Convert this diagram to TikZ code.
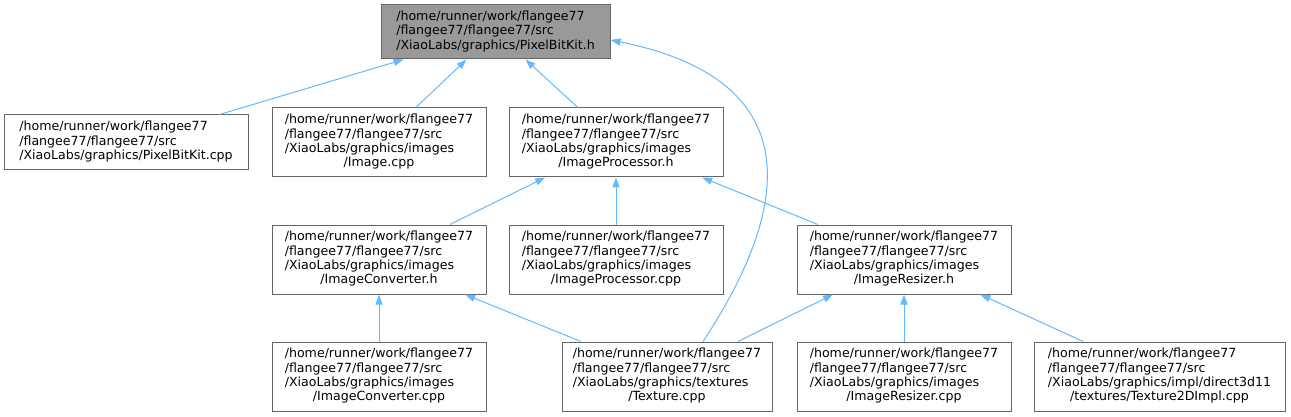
\documentclass[tikz,border=0pt]{standalone}
\usepackage{fontspec}
\setmainfont{DejaVu Sans}
\usetikzlibrary{arrows.meta}
\definecolor{edgeblue}{HTML}{63B8FF}
\definecolor{boxgray}{HTML}{666666}
\definecolor{rootfill}{HTML}{999999}
\newcommand{\lastln}[1]{\multicolumn{1}{@{}c@{}}{#1}}

\begin{document}
\begin{tikzpicture}[x=1pt,y=-1pt,>={Triangle[length=10pt,width=7pt]},
  font=\fontsize{12.6}{14.4}\selectfont,
  file/.style={draw=boxgray,line width=1pt,fill=white,inner sep=0pt,
    minimum width=214pt,minimum height=69pt},
  hdr/.style={file,fill=rootfill,minimum width=229pt,minimum height=54pt},
  inc/.style={draw=edgeblue,line width=1pt,->}]
  \useasboundingbox (0,0) rectangle (1291,417);
  % top: the header itself
  \node[hdr] (root) at (495.5,32) {\begin{tabular}{@{}l@{}}/home/runner/work/flangee77\\/flangee77/flangee77/src\\/XiaoLabs/graphics/PixelBitKit.h\end{tabular}};
  % row 1
  \node[file,minimum width=244pt,minimum height=55pt] (pbkcpp) at (126,142.5) {\begin{tabular}{@{}l@{}}/home/runner/work/flangee77\\/flangee77/flangee77/src\\/XiaoLabs/graphics/PixelBitKit.cpp\end{tabular}};
  \node[file] (imgcpp) at (379,142.5) {\begin{tabular}{@{}l@{}}/home/runner/work/flangee77\\/flangee77/flangee77/src\\/XiaoLabs/graphics/images\\\lastln{/Image.cpp}\end{tabular}};
  \node[file] (proch) at (616,142.5) {\begin{tabular}{@{}l@{}}/home/runner/work/flangee77\\/flangee77/flangee77/src\\/XiaoLabs/graphics/images\\\lastln{/ImageProcessor.h}\end{tabular}};
  % row 2
  \node[file] (convh) at (379,259.5) {\begin{tabular}{@{}l@{}}/home/runner/work/flangee77\\/flangee77/flangee77/src\\/XiaoLabs/graphics/images\\\lastln{/ImageConverter.h}\end{tabular}};
  \node[file] (proccpp) at (616,259.5) {\begin{tabular}{@{}l@{}}/home/runner/work/flangee77\\/flangee77/flangee77/src\\/XiaoLabs/graphics/images\\\lastln{/ImageProcessor.cpp}\end{tabular}};
  \node[file] (resh) at (904,259.5) {\begin{tabular}{@{}l@{}}/home/runner/work/flangee77\\/flangee77/flangee77/src\\/XiaoLabs/graphics/images\\\lastln{/ImageResizer.h}\end{tabular}};
  % row 3
  \node[file] (convcpp) at (379,376.5) {\begin{tabular}{@{}l@{}}/home/runner/work/flangee77\\/flangee77/flangee77/src\\/XiaoLabs/graphics/images\\\lastln{/ImageConverter.cpp}\end{tabular}};
  \node[file,minimum width=210pt] (texcpp) at (667,376.5) {\begin{tabular}{@{}l@{}}/home/runner/work/flangee77\\/flangee77/flangee77/src\\/XiaoLabs/graphics/textures\\\lastln{/Texture.cpp}\end{tabular}};
  \node[file] (rescpp) at (904,376.5) {\begin{tabular}{@{}l@{}}/home/runner/work/flangee77\\/flangee77/flangee77/src\\/XiaoLabs/graphics/images\\\lastln{/ImageResizer.cpp}\end{tabular}};
  \node[file,minimum width=251pt] (t2dcpp) at (1159.5,376.5) {\begin{tabular}{@{}l@{}}/home/runner/work/flangee77\\/flangee77/flangee77/src\\/XiaoLabs/graphics/impl/direct3d11\\\lastln{/textures/Texture2DImpl.cpp}\end{tabular}};
  % include edges
  \draw[inc] (pbkcpp) -- (root);
  \draw[inc] (imgcpp) -- (root);
  \draw[inc] (proch) -- (root);
  \draw[inc] ([xshift=36pt]texcpp.north) .. controls (770,240) and (835,85) .. ([yshift=-8pt]root.east);
  \draw[inc] (convh) -- (proch);
  \draw[inc] (proccpp) -- (proch);
  \draw[inc] (resh) -- (proch);
  \draw[inc] (convcpp) -- (convh);
  \draw[inc] (texcpp) -- (convh);
  \draw[inc] (texcpp) -- (resh);
  \draw[inc] (rescpp) -- (resh);
  \draw[inc] (t2dcpp) -- (resh);
\end{tikzpicture}
\end{document}
